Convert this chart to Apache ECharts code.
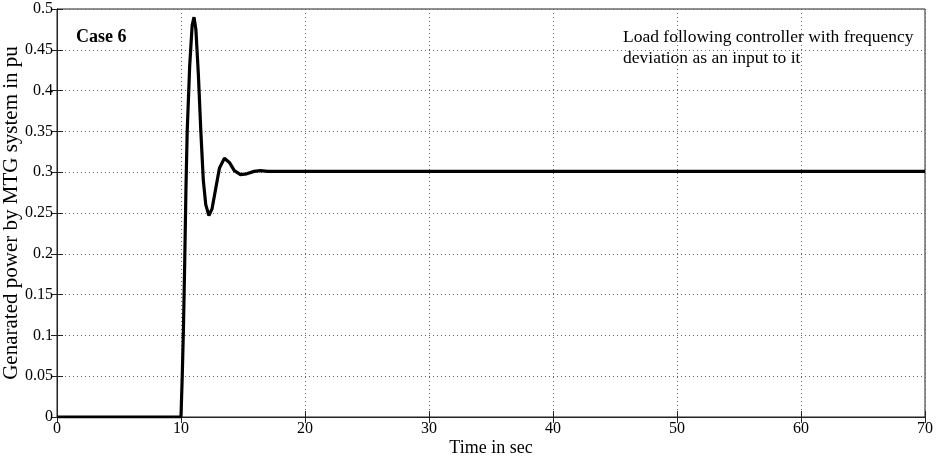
<!DOCTYPE html>
<html>
<head>
<meta charset="utf-8">
<script src="https://cdn.jsdelivr.net/npm/echarts@6/dist/echarts.min.js"></script>
<style>
html,body{margin:0;padding:0;background:#fff;}
#chart{width:939px;height:461px;}
</style>
</head>
<body>
<div id="chart"></div>
<script>
// Time (s) and generated power (pu)
const timeSec = [0, 10.0, 10.1, 10.2, 10.3, 10.4, 10.5, 10.7, 10.9, 11.05, 11.2, 11.4, 11.6, 11.8, 12.0, 12.25, 12.5, 12.8, 13.1, 13.5, 13.9, 14.3, 14.8, 15.3, 15.9, 16.4, 17.0, 18.0, 70];
const powerPu = [0, 0, 0.05, 0.11, 0.19, 0.28, 0.35, 0.43, 0.48, 0.49, 0.475, 0.42, 0.35, 0.29, 0.26, 0.247, 0.255, 0.28, 0.305, 0.317, 0.312, 0.302, 0.297, 0.298, 0.301, 0.302, 0.301, 0.301, 0.301];
const xTicks = [0, 10, 20, 30, 40, 50, 60, 70];
const yTicks = [0, 0.05, 0.1, 0.15, 0.2, 0.25, 0.3, 0.35, 0.4, 0.45, 0.5];
const caseLabel = 'Case 6';
const noteLines = ['Load following controller with frequency', 'deviation as an input to it'];

const font = 'Liberation Serif, Times New Roman, serif';
const chart = echarts.init(document.getElementById('chart'));
const pts = timeSec.map((t, i) => [t, powerPu[i]]);

const gridLine = {show: true, lineStyle: {color: '#666', type: [1, 3], width: 1}};
chart.setOption({
  animation: false,
  backgroundColor: '#fff',
  grid: {left: 57, right: 14, top: 9, bottom: 44, containLabel: false, outerBoundsMode: 'none',
    show: true, borderColor: '#222', borderWidth: 1, backgroundColor: 'transparent'},
  xAxis: [{
    type: 'value', min: 0, max: 70, interval: 10,
    name: 'Time in sec', nameLocation: 'middle', nameGap: 22, nameMoveOverlap: false,
    nameTextStyle: {fontFamily: font, fontSize: 18, color: '#000'},
    axisLine: {show: true, onZero: false, lineStyle: {color: '#222'}},
    axisTick: {show: true, inside: true, length: 6, lineStyle: {color: '#222'}},
    axisLabel: {fontFamily: font, fontSize: 16, color: '#000', margin: 4,
      formatter: v => xTicks.includes(v) ? String(v) : ''},
    splitLine: gridLine
  }, {
    type: 'value', min: 0, max: 70, interval: 10, position: 'top',
    axisLine: {show: true, lineStyle: {color: '#222'}},
    axisTick: {show: true, inside: true, length: 6, lineStyle: {color: '#222'}},
    axisLabel: {show: false}, splitLine: {show: false}
  }],
  yAxis: [{
    type: 'value', min: 0, max: 0.5, interval: 0.05,
    name: 'Genarated power by MTG system in pu', nameLocation: 'middle', nameGap: 35, nameMoveOverlap: false,
    nameTextStyle: {fontFamily: font, fontSize: 21, color: '#000'},
    axisLine: {show: true, onZero: false, lineStyle: {color: '#222'}},
    axisTick: {show: true, inside: true, length: 6, lineStyle: {color: '#222'}},
    axisLabel: {fontFamily: font, fontSize: 16, color: '#000', margin: 4,
      formatter: v => { const f = yTicks.find(t => Math.abs(t - v) < 1e-9); return f === undefined ? '' : String(parseFloat(f.toFixed(2))); }},
    splitLine: gridLine
  }, {
    type: 'value', min: 0, max: 0.5, interval: 0.05, position: 'right',
    axisLine: {show: true, lineStyle: {color: '#222'}},
    axisTick: {show: true, inside: true, length: 6, lineStyle: {color: '#222'}},
    axisLabel: {show: false}, splitLine: {show: false}
  }],
  graphic: [
    {type: 'text', left: 76, top: 28, style: {text: caseLabel, font: 'bold 18px ' + font, fill: '#000'}},
    {type: 'text', left: 623, top: 27, style: {text: noteLines.join('\n'), font: '17.5px ' + font, fill: '#000', lineHeight: 21}}
  ],
  series: [{
    type: 'line', data: pts, xAxisIndex: 0, yAxisIndex: 0,
    showSymbol: false, smooth: false,
    lineStyle: {color: '#000', width: 3.2},
    z: 5
  }]
});
</script>
</body>
</html>
